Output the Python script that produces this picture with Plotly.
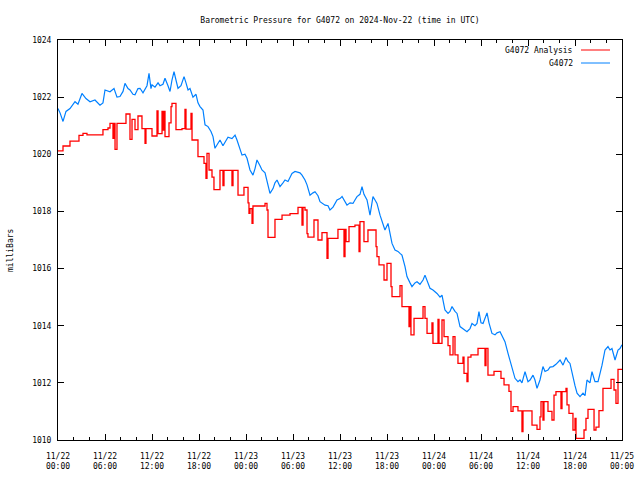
import pandas as pd
import plotly.graph_objects as go

# ---- data (hours after 2024-11-22 00:00 UTC, pressure in mb) ----
obs_hours = [0, 0.26, 0.64, 1.02, 1.53, 2.17, 2.55, 3.06, 3.57, 4.09, 4.72, 5.36, 5.74, 6.0, 6.64,
             7.15, 7.53, 7.91, 8.30, 8.55, 8.94, 9.19, 9.57, 9.83, 10.21, 10.47, 10.85, 11.11, 11.36,
             11.62, 11.87, 12.0, 12.38, 12.77, 13.02, 13.40, 13.66, 14.04, 14.30, 14.55, 14.81, 15.06,
             15.32, 15.70, 16.09, 16.34, 16.60, 16.85, 17.23, 17.62, 17.87, 18.13, 18.51, 18.77, 19.15,
             19.53, 19.79, 20.04, 20.43, 20.68, 21.06, 21.32, 21.70, 22.21, 22.60, 22.85, 23.23, 23.49,
             23.87, 24.13, 24.51, 24.89, 25.15, 25.40, 25.79, 26.04, 26.43, 26.81, 27.06, 27.45, 27.70,
             27.96, 28.34, 28.72, 28.98, 29.36, 29.62, 29.87, 30.26, 30.51, 30.89, 31.15, 31.53, 31.79,
             32.17, 32.55, 32.81, 33.19, 33.45, 34.09, 34.47, 34.72, 35.11, 35.62, 36.0, 36.26, 36.64,
             36.89, 37.28, 37.66, 37.91, 38.17, 38.55, 38.81, 39.06, 39.19, 39.45, 39.83, 40.21, 40.47,
             40.72, 41.11, 41.49, 41.74, 42.13, 42.38, 42.64, 43.02, 43.40, 43.66, 43.91, 44.30, 44.55,
             44.94, 45.19, 45.57, 45.83, 46.21, 46.60, 46.85, 47.11, 47.49, 47.87, 48.38, 48.77, 49.02,
             49.40, 49.79, 50.04, 50.30, 50.68, 50.94, 51.32, 51.70, 52.21, 52.60, 52.85, 53.23, 53.49,
             53.74, 54.0, 54.26, 54.51, 54.77, 55.02, 55.40, 55.79, 56.04, 56.43, 56.81, 57.06, 57.45,
             57.70, 57.96, 58.34, 58.72, 58.98, 59.23, 59.62, 60.0, 60.26, 60.64, 60.89, 61.15, 61.53,
             61.91, 62.17, 62.55, 62.81, 63.19, 63.57, 64.09, 64.47, 64.85, 65.11, 65.36, 65.74, 66.0,
             66.26, 66.64, 67.02, 67.28, 67.53, 67.91, 68.17, 68.55, 68.94, 69.19, 69.45, 69.83, 70.21,
             70.47, 70.72, 71.11, 71.49, 71.74, 72.0]
obs_mb = [1021.6, 1021.45, 1021.15, 1021.5, 1021.6, 1021.84, 1021.75, 1022.13, 1021.95, 1021.84,
          1021.9, 1021.72, 1021.8, 1022.25, 1022.19, 1022.3, 1022.0, 1022.02, 1022.2, 1022.48, 1022.3,
          1022.25, 1022.1, 1022.08, 1022.3, 1022.31, 1022.15, 1022.3, 1022.4, 1022.83, 1022.3, 1022.43,
          1022.35, 1022.5, 1022.4, 1022.45, 1022.66, 1022.4, 1022.2, 1022.6, 1022.89, 1022.6, 1022.31,
          1022.4, 1022.72, 1022.5, 1022.25, 1022.3, 1022.0, 1022.1, 1021.8, 1021.67, 1021.55, 1021.03,
          1020.97, 1020.8, 1020.62, 1020.21, 1020.4, 1020.5, 1020.3, 1020.44, 1020.6, 1020.55, 1020.67,
          1020.5, 1020.21, 1019.97, 1020.0, 1019.86, 1019.45, 1019.27, 1019.5, 1019.8, 1019.6, 1019.45,
          1019.35, 1018.87, 1018.63, 1018.8, 1019.0, 1019.1, 1018.87, 1019.0, 1019.1, 1019.05, 1019.2,
          1019.33, 1019.4, 1019.39, 1019.35, 1019.27, 1019.1, 1018.93, 1018.57, 1018.65, 1018.69,
          1018.55, 1018.34, 1018.22, 1018.2, 1018.05, 1018.15, 1018.4, 1018.45, 1018.52, 1018.35,
          1018.22, 1018.3, 1018.28, 1018.4, 1018.52, 1018.6, 1018.87, 1018.6, 1018.52, 1018.4, 1017.87,
          1018.52, 1018.4, 1018.28, 1017.87, 1017.58, 1017.35, 1017.58, 1017.2, 1016.88, 1016.65,
          1016.6, 1016.53, 1016.47, 1016.07, 1015.72, 1015.5, 1015.37, 1015.5, 1015.54, 1015.45,
          1015.6, 1015.77, 1015.6, 1015.31, 1015.25, 1015.13, 1015.0, 1015.07, 1014.55, 1014.43,
          1014.5, 1014.67, 1014.5, 1014.43, 1013.97, 1013.9, 1013.79, 1013.9, 1014.08, 1014.0, 1014.08,
          1014.49, 1014.1, 1014.08, 1014.3, 1014.45, 1014.1, 1013.73, 1013.68, 1013.75, 1013.79,
          1013.6, 1013.44, 1013.03, 1012.8, 1012.51, 1012.16, 1012.04, 1012.1, 1012.0, 1012.39,
          1012.04, 1012.1, 1012.27, 1012.1, 1011.81, 1012.1, 1012.57, 1012.4, 1012.45, 1012.55,
          1012.57, 1012.65, 1012.8, 1012.62, 1012.89, 1012.75, 1012.68, 1012.16, 1011.9, 1011.64,
          1011.52, 1011.64, 1011.55, 1012.1, 1012.0, 1012.39, 1012.04, 1012.04, 1012.3, 1012.62,
          1013.15, 1013.27, 1013.15, 1013.2, 1012.8, 1013.15, 1013.2, 1013.33]

ana_hours = [0, 0.64, 1.53, 2.68, 3.19, 3.70, 5.74, 6.38, 6.64, 7.02, 7.15, 7.28, 7.53, 8.68, 9.19,
             9.45, 9.83, 10.21, 10.72, 11.11, 11.23, 12.0, 12.64, 12.77, 13.28, 13.40, 13.53, 13.66,
             14.17, 14.43, 14.55, 15.06, 15.83, 16.21, 16.34, 16.98, 17.11, 17.87, 18.64, 18.89, 19.02,
             19.28, 19.66, 19.91, 20.68, 21.06, 21.19, 22.21, 22.34, 22.98, 23.74, 24.26, 24.38, 24.51,
             24.77, 24.89, 26.43, 26.68, 26.81, 27.70, 28.60, 29.62, 30.64, 31.15, 31.28, 31.53, 31.79,
             31.91, 32.68, 33.19, 33.70, 34.34, 34.47, 35.74, 36.51, 36.64, 36.77, 37.15, 37.91, 38.43,
             38.55, 39.06, 39.57, 40.60, 40.72, 40.98, 41.62, 42.0, 42.51, 42.64, 43.66, 43.91, 44.81,
             44.94, 45.06, 45.45, 46.60, 46.85, 47.11, 47.74, 47.87, 48.51, 48.64, 49.02, 49.28, 49.79,
             50.04, 50.43, 50.68, 51.06, 51.70, 51.83, 52.21, 52.34, 52.72, 53.62, 54.51, 54.64, 54.89,
             55.66, 56.55, 56.94, 57.57, 57.83, 58.09, 58.72, 59.23, 59.36, 60.51, 61.15, 61.53, 61.66,
             61.91, 62.04, 62.55, 63.06, 63.32, 63.57, 64.21, 64.34, 64.85, 64.98, 65.23, 65.74, 66.0,
             66.13, 67.15, 67.40, 67.66, 68.43, 68.68, 69.06, 69.57, 70.60, 70.98, 71.23, 71.49, 72.0]
ana_mb = [1020.12, 1020.29, 1020.46, 1020.66, 1020.73, 1020.68, 1020.86, 1020.92, 1021.08, 1020.56,
          1021.08, 1020.17, 1021.08, 1021.41, 1020.52, 1021.22, 1020.86, 1021.34, 1020.9, 1020.38,
          1020.9, 1020.64, 1021.52, 1020.72, 1021.5, 1020.85, 1021.5, 1020.62, 1021.1, 1021.67,
          1021.78, 1020.86, 1020.9, 1021.57, 1020.88, 1021.43, 1020.5, 1019.92, 1019.68, 1019.16,
          1020.03, 1019.45, 1019.2, 1018.76, 1019.44, 1018.9, 1019.44, 1018.9, 1019.44, 1018.57,
          1018.84, 1018.3, 1017.93, 1018.1, 1017.58, 1018.19, 1018.28, 1018.05, 1017.09, 1017.72,
          1017.87, 1017.92, 1018.14, 1017.52, 1018.14, 1018.05, 1017.22, 1017.1, 1017.7, 1017.0,
          1017.26, 1016.36, 1017.06, 1017.37, 1016.42, 1017.37, 1016.94, 1017.47, 1017.52, 1016.59,
          1017.64, 1016.94, 1017.35, 1016.77, 1016.42, 1016.13, 1015.6, 1016.18, 1015.37, 1015.02,
          1015.4, 1014.67, 1013.97, 1014.67, 1013.68, 1014.26, 1014.67, 1014.26, 1013.73, 1014.1,
          1013.38, 1014.22, 1013.38, 1014.2, 1013.62, 1013.3, 1012.98, 1013.62, 1012.98, 1012.68,
          1012.9, 1012.33, 1012.04, 1012.9, 1012.98, 1013.21, 1012.6, 1013.21, 1012.27, 1012.4,
          1012.16, 1011.93, 1011.7, 1011.0, 1011.17, 1011.02, 1010.29, 1011.02, 1010.52, 1010.37,
          1010.81, 1011.34, 1010.7, 1011.34, 1011.0, 1010.7, 1011.57, 1011.69, 1011.1, 1011.69,
          1011.81, 1011.23, 1010.93, 1010.35, 1010.76, 1010.06, 1010.35, 1010.76, 1011.07, 1010.35,
          1010.45, 1011.03, 1011.81, 1012.12, 1011.75, 1011.28, 1012.47, 1012.47]

tick_hours = [0, 6, 12, 18, 24, 30, 36, 42, 48, 54, 60, 66, 72]
y_ticks = [1010, 1012, 1014, 1016, 1018, 1020, 1022, 1024]

series_names = ["G4072 Analysis", "G4072"]
series_colors = ["#ff0000", "#0080ff"]

base = pd.Timestamp("2024-11-22 00:00")
def to_time(hours):
    return base + pd.to_timedelta(hours, unit="h")

FONT = "DejaVu Sans Mono"

fig = go.Figure()
fig.add_trace(go.Scatter(x=to_time(ana_hours), y=ana_mb, mode="lines", line_shape="hv",
                         name=series_names[0], line=dict(color=series_colors[0], width=1.3)))
fig.add_trace(go.Scatter(x=to_time(obs_hours), y=obs_mb, mode="lines",
                         name=series_names[1], line=dict(color=series_colors[1], width=1.2)))

tick_times = to_time(tick_hours)
tick_text = [t.strftime("%m/%d") + "<br>" + t.strftime("%H:%M") for t in tick_times]

fig.update_layout(
    width=640, height=480,
    margin=dict(l=58, r=18, t=40, b=40, autoexpand=False),
    paper_bgcolor="white", plot_bgcolor="white",
    showlegend=False,
    font=dict(family=FONT, size=8, color="black"),
    title=dict(text="Barometric Pressure for G4072 on 2024-Nov-22 (time in UTC)",
               x=340 / 640, xanchor="center", y=1 - 20 / 480, yanchor="middle",
               yref="container", font=dict(family=FONT, size=8, color="black")),
    xaxis=dict(type="date", range=[tick_times[0], tick_times[-1]],
               tickvals=list(tick_times), ticktext=tick_text, automargin=False,
               ticks="inside", ticklen=6, tickcolor="black", tickwidth=1,
               ticklabelstandoff=8,
               showline=True, linecolor="black", linewidth=1, mirror="ticks",
               showgrid=False, zeroline=False,
               minor=dict(dtick=2 * 3600 * 1000, ticks="inside", ticklen=3,
                          tickcolor="black", showgrid=False),
               tickfont=dict(family=FONT, size=8, color="black")),
    yaxis=dict(range=[1010, 1024], tickvals=y_ticks, ticktext=[str(v) for v in y_ticks],
               automargin=False,
               ticks="inside", ticklen=6, tickcolor="black", tickwidth=1,
               ticklabelstandoff=4,
               showline=True, linecolor="black", linewidth=1, mirror="ticks",
               showgrid=False, zeroline=False,
               tickfont=dict(family=FONT, size=8, color="black")),
)

# y-axis label
fig.add_annotation(text="milliBars", xref="paper", yref="paper", x=(10 - 58) / 564, y=0.475,
                   textangle=-90, showarrow=False, xanchor="center", yanchor="middle",
                   font=dict(family=FONT, size=8, color="black"))

# key (text right-aligned, sample line on the right, like gnuplot)
key_y = [50, 63]
for name, color, py in zip(series_names, series_colors, key_y):
    yp = (440 - py) / 400
    fig.add_annotation(text=name, xref="paper", yref="paper", x=(575 - 58) / 564, y=yp,
                       xanchor="right", yanchor="middle", showarrow=False,
                       font=dict(family=FONT, size=8, color="black"))
    fig.add_shape(type="line", xref="paper", yref="paper",
                  x0=(581 - 58) / 564, x1=(610 - 58) / 564, y0=yp, y1=yp,
                  line=dict(color=color, width=1))

fig.write_html("out.html", config={"displayModeBar": False},
               post_script="document.body.style.margin='0';")
